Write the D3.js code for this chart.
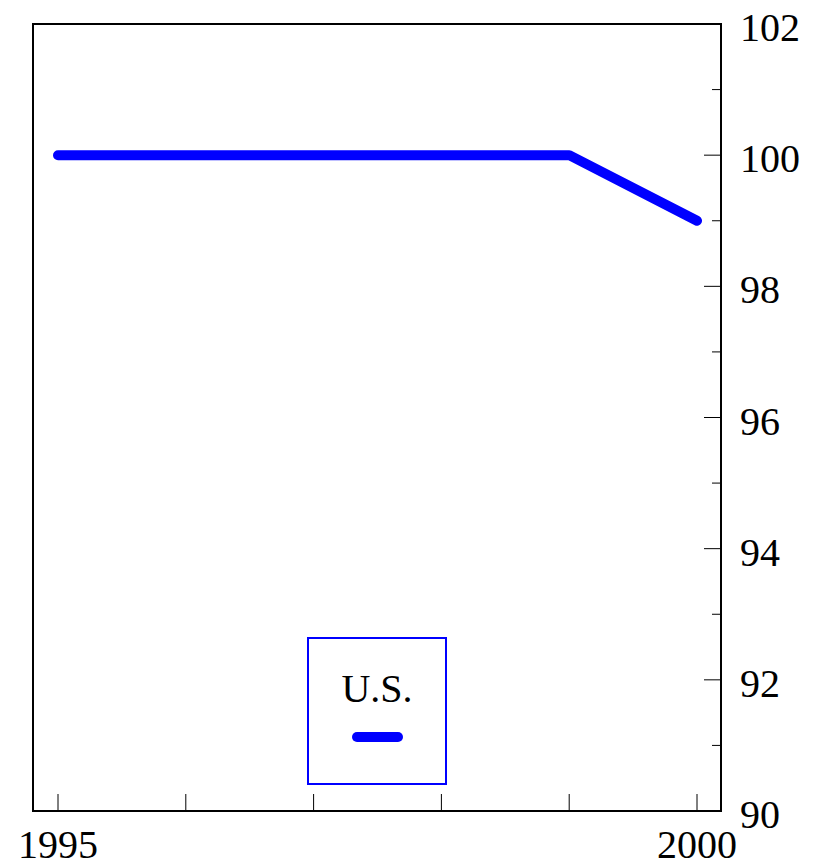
<!DOCTYPE html>
<html>
<head>
<meta charset="utf-8">
<script src="https://cdn.jsdelivr.net/npm/d3@7"></script>
<style>
  html, body { margin: 0; padding: 0; background: #fff; }
  svg text { font-family: "Liberation Serif", "Times New Roman", serif; }
</style>
</head>
<body>
<svg id="chart" width="814" height="865"></svg>
<script>
// data
const years = [1995, 1996, 1997, 1998, 1999, 2000];
const usValues = [100, 100, 100, 100, 100, 99];
const seriesName = "U.S.";
const yTickValues = [90, 92, 94, 96, 98, 100, 102];
const yMinorTicks = [91, 93, 95, 97, 99, 101];
const xLabelled = [1995, 2000];

const svg = d3.select("#chart");

// frame of the plot
const frame = { left: 33, top: 24, right: 721, bottom: 811 };

const x = d3.scaleLinear().domain([1995, 2000]).range([58, 697]);
const y = d3.scaleLinear().domain([90, 102]).range([frame.bottom, frame.top]);

// x ticks (inward, from bottom)
svg.append("g")
  .selectAll("line")
  .data(years)
  .join("line")
  .attr("x1", d => x(d)).attr("x2", d => x(d))
  .attr("y1", frame.bottom).attr("y2", frame.bottom - 17)
  .attr("stroke", "#000").attr("stroke-width", 1);

svg.append("g")
  .selectAll("text")
  .data(xLabelled)
  .join("text")
  .attr("x", d => x(d))
  .attr("y", 858)
  .attr("text-anchor", "middle")
  .attr("font-size", 40)
  .text(d => d);

// y ticks on right side (inward)
svg.append("g")
  .selectAll("line")
  .data(yTickValues)
  .join("line")
  .attr("x1", frame.right - 17).attr("x2", frame.right)
  .attr("y1", d => y(d)).attr("y2", d => y(d))
  .attr("stroke", "#000").attr("stroke-width", 1);

svg.append("g")
  .selectAll("line")
  .data(yMinorTicks)
  .join("line")
  .attr("x1", frame.right - 9).attr("x2", frame.right)
  .attr("y1", d => y(d)).attr("y2", d => y(d))
  .attr("stroke", "#000").attr("stroke-width", 1);

svg.append("g")
  .selectAll("text")
  .data(yTickValues)
  .join("text")
  .attr("x", 740)
  .attr("y", d => y(d) + 17)
  .attr("font-size", 40)
  .text(d => d);

// line
const line = d3.line()
  .x((d, i) => x(years[i]))
  .y(d => y(d));

svg.append("path")
  .datum(usValues)
  .attr("d", line)
  .attr("fill", "none")
  .attr("stroke", "#0000ff")
  .attr("stroke-width", 10)
  .attr("stroke-linecap", "round")
  .attr("stroke-linejoin", "round");

// plot frame
svg.append("rect")
  .attr("x", frame.left).attr("y", frame.top)
  .attr("width", frame.right - frame.left)
  .attr("height", frame.bottom - frame.top)
  .attr("fill", "none")
  .attr("stroke", "#000")
  .attr("stroke-width", 2);

// legend
const legend = svg.append("g").attr("transform", "translate(308,638)");
legend.append("rect")
  .attr("width", 138).attr("height", 146)
  .attr("fill", "#fff")
  .attr("stroke", "#0000ff")
  .attr("stroke-width", 2);
legend.append("text")
  .attr("x", 69).attr("y", 64)
  .attr("text-anchor", "middle")
  .attr("font-size", 40)
  .text(seriesName);
legend.append("line")
  .attr("x1", 49).attr("x2", 90)
  .attr("y1", 99).attr("y2", 99)
  .attr("stroke", "#0000ff")
  .attr("stroke-width", 10)
  .attr("stroke-linecap", "round");
</script>
</body>
</html>
